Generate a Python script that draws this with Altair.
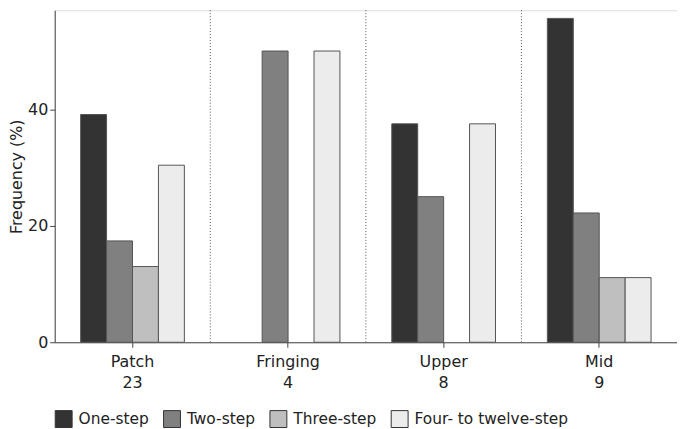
import altair as alt
import pandas as pd

groups = ["Patch", "Fringing", "Upper", "Mid"]
counts = ["23", "4", "8", "9"]
series = ["One-step", "Two-step", "Three-step", "Four- to twelve-step"]
one_step = [39.1, 0.0, 37.5, 55.6]
two_step = [17.4, 50.0, 25.0, 22.2]
three_step = [13.0, 0.0, 0.0, 11.1]
four_step = [30.4, 50.0, 37.5, 11.1]
colors = ["#333333", "#808080", "#bfbfbf", "#ececec"]

cats = [f"{g}|{c}" for g, c in zip(groups, counts)]
rows = []
for s, vals in zip(series, [one_step, two_step, three_step, four_step]):
    for cat, v in zip(cats, vals):
        if v > 0:
            rows.append({"cat": cat, "series": s, "value": v})
df = pd.DataFrame(rows)
sep = pd.DataFrame({"cat": cats[1:]})

FONT = "DejaVu Sans"

xscale = alt.Scale(domain=cats, paddingInner=0, paddingOuter=0)

bars = alt.Chart(df).mark_bar(stroke="#555555", strokeWidth=1).encode(
    x=alt.X("cat:N", scale=xscale, sort=cats,
            axis=alt.Axis(title=None, labelExpr="split(datum.label, '|')",
                          labelAngle=0, labelFontSize=16, labelLineHeight=22,
                          labelPadding=14, tickSize=5, labelColor="#222222",
                          tickColor="#444444", domainColor="#444444",
                          labelFont=FONT, labelAlign="center")),
    xOffset=alt.XOffset("series:N", sort=series,
                        scale=alt.Scale(domain=series, paddingInner=0, paddingOuter=1)),
    y=alt.Y("value:Q", scale=alt.Scale(domain=[0, 57], nice=False),
            axis=alt.Axis(title="Frequency (%)", values=[0, 20, 40], grid=False,
                          tickSize=5, labelFontSize=16, titleFontSize=16,
                          titleFontWeight="normal", labelFont=FONT, titleFont=FONT,
                          labelColor="#222222", titleColor="#222222",
                          tickColor="#444444", domainColor="#444444",
                          labelPadding=2, titlePadding=3)),
    color=alt.Color("series:N", sort=series,
                    scale=alt.Scale(domain=series, range=colors),
                    legend=alt.Legend(title=None, orient="none", direction="horizontal",
                                      legendX=0, legendY=402,
                                      symbolType="square", symbolSize=289,
                                      symbolStrokeColor="#333333", symbolStrokeWidth=1,
                                      labelFontSize=15.5, labelFont=FONT, labelColor="#222222",
                                      labelOffset=6, columnPadding=12, symbolOpacity=1)),
)

rules = alt.Chart(sep).mark_rule(color="#555555", strokeDash=[1, 2], strokeWidth=1).encode(
    x=alt.X("cat:N", scale=xscale, sort=cats, bandPosition=0),
)

chart = alt.layer(rules, bars).properties(
    width=626, height=334
).configure_view(stroke="#444444", strokeWidth=1).configure(
    padding={"left": 0, "top": 0, "right": 0, "bottom": 0}
)

chart.save("out.html", embed_options={"renderer": "svg", "actions": False})
